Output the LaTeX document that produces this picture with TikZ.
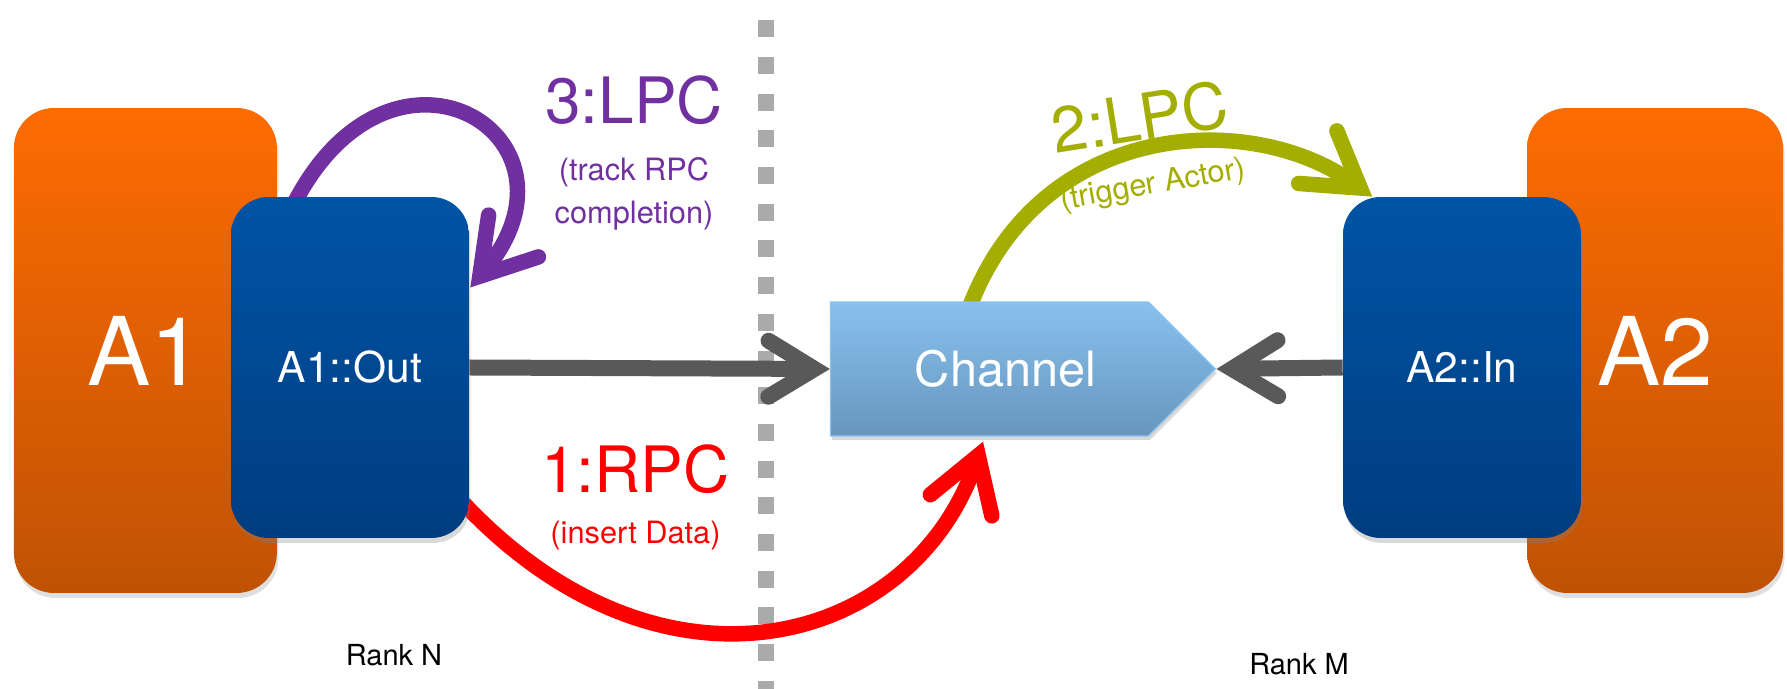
\documentclass[tikz,border=0pt]{standalone}
\usepackage{fontspec}
\setmainfont{TeX Gyre Heros}
\usepackage{tikz}
\usetikzlibrary{arrows.meta,shapes.symbols,shadows,positioning}
\pgfdeclarelayer{background}
\pgfsetlayers{background,main}

\definecolor{actortop}{RGB}{253,108,2}
\definecolor{actorbot}{RGB}{192,82,4}
\definecolor{porttop}{RGB}{0,84,166}
\definecolor{portbot}{RGB}{0,61,128}
\definecolor{chantop}{RGB}{136,193,238}
\definecolor{chanbot}{RGB}{103,150,189}
\definecolor{chanedge}{RGB}{140,196,240}
\definecolor{flowgray}{RGB}{89,89,89}
\definecolor{divgray}{RGB}{170,170,170}
\definecolor{lpcpurple}{RGB}{112,48,160}
\definecolor{lpcgreen}{RGB}{164,174,0}
\definecolor{rpcred}{RGB}{255,0,0}

\begin{document}
\begin{tikzpicture}[x=0.02cm, y=0.02cm, >={Straight Barb[length=0.92cm, width=1.12cm, line cap=round]}]
\tikzstyle{actor} = [rectangle, rounded corners=0.8cm, minimum width=5.26cm, minimum height=9.7cm, top color=actortop, bottom color=actorbot, text=white, font=\fontsize{54}{60}\selectfont, drop shadow={opacity=0.25, shadow xshift=0.03cm, shadow yshift=-0.1cm}]
\tikzstyle{port} = [rectangle, rounded corners=0.75cm, minimum width=4.76cm, minimum height=6.82cm, top color=porttop, bottom color=portbot, text=white, font=\fontsize{24.2}{28}\selectfont, drop shadow={opacity=0.3, shadow xshift=0.03cm, shadow yshift=-0.1cm}]
\tikzstyle{channel} = [signal, signal to=east, signal pointer angle=90, minimum width=7.7cm, minimum height=2.68cm, top color=chantop, bottom color=chanbot, draw=chanedge, line width=0.8pt, text=white, font=\fontsize{27.7}{32}\selectfont, drop shadow={opacity=0.3, shadow xshift=0.03cm, shadow yshift=-0.08cm}]
\tikzstyle{flow} = [->, draw=flowgray, line width=0.32cm]
\tikzstyle{call} = [line width=0.31cm, -{Straight Barb[length=1.05cm, width=1.3cm, line cap=round]}]
\tikzstyle{bignote} = [inner sep=0pt, font=\fontsize{36.4}{40}\selectfont]
\tikzstyle{smallnote} = [inner sep=0pt, align=center, font=\fontsize{17.5}{24.5}\selectfont]
\tikzstyle{ranklabel} = [inner sep=0pt, anchor=base, font=\fontsize{16.5}{20}\selectfont]
\tikzstyle{divider} = [draw=divgray, line width=0.33cm, dash pattern=on 0.34cm off 0.394cm]

\useasboundingbox (0,0) rectangle (1787,689);

    % the two actors with their ports, and the channel between them
    \node [actor] (a1) at (145.4,338.5) {A1};
    \node [actor, minimum width=5.12cm] (a2) at (1655,338.5) {A2};
    \node [port] (out) at (350,321.5) {A1::Out};
    \node [port] (in) at (1462,321.5) {A2::In};
    \node [channel] (chan) at (989.5,320) {\hspace*{0.64cm}Channel};

    \node [bignote, text=lpcpurple, anchor=base] (lpc3) at (634,565) {3:LPC};
    \node [smallnote, text=lpcpurple, below=0.64cm of lpc3] (lpc3note) {(track RPC\\completion)};
    \node [bignote, text=rpcred, anchor=base] (rpc1) at (635.5,196) {1:RPC};
    \node [smallnote, text=rpcred, below=0.52cm of rpc1] (rpc1note) {(insert Data)};
    \node [bignote, text=lpcgreen, rotate=9] (lpc2) at (1140,572) {2:LPC};
    \node [smallnote, text=lpcgreen, rotate=10] (lpc2note) at (1153,503) {(trigger Actor)};

    \node [ranklabel] (rankn) at (394,23) {Rank N};
    \node [ranklabel] (rankm) at (1299,14) {Rank M};

    \coordinate (splittop) at (766,668.7);
    \coordinate (splitbot) at (766,-10);

    % calls go behind the boxes
    \begin{pgfonlayer}{background}
    \draw [divider] (splittop) -- (splitbot);
    \draw [flow] (out.east) -- (chan.west);
    \draw [flow] (in.west) -- (chan.east);
    \draw [call, rpcred] ([shift={(-0.3cm,0.9cm)}]out.south east) to[out=-48, in=-109, out distance=6cm, in distance=4.4cm] ([xshift=-0.13cm, yshift=-0.1cm]chan.south);
    \draw [call, lpcgreen] ([xshift=-0.43cm, yshift=-0.2cm]chan.north) to[out=70, in=144, out distance=4.1cm, in distance=3cm] ([xshift=0.59cm]in.north west);
    \draw [call, lpcpurple] ([shift={(1.16cm,-0.36cm)}]out.north west) to[out=65, in=50, out distance=4.6cm, in distance=4cm] ([shift={(0.02cm,1.6cm)}]out.east);
    \end{pgfonlayer}

\end{tikzpicture}
\end{document}
